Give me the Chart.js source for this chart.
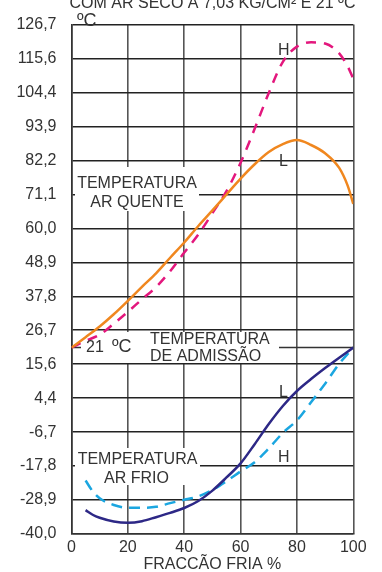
<!DOCTYPE html>
<html>
<head>
<meta charset="utf-8">
<script src="https://cdn.jsdelivr.net/npm/chart.js@4.4.1/dist/chart.umd.min.js"></script>
<style>
  html, body { margin: 0; padding: 0; background: #fff; }
  canvas { display: block; }
</style>
</head>
<body>
<canvas id="chart" width="382" height="572"></canvas>
<script>
// Temperatura de saída vs fracção fria (ar seco a 7,03 kg/cm2, 21 ºC)
const hotX = [0, 5, 10, 15, 20, 25, 30, 35, 40, 45, 50, 55, 60, 65, 70, 75, 80, 85, 90, 95, 98, 100];
const hotH = [21.0, 23.2, 25.2, 28.8, 32.7, 36.8, 40.8, 46.0, 52.1, 58.0, 65.0, 72.2, 81.5, 92.6, 104.3, 114.5, 119.5, 120.9, 120.5, 117.3, 113.0, 109.0];
const hotL = [21.0, 24.4, 27.9, 31.9, 36.3, 40.9, 45.3, 50.4, 55.4, 60.8, 65.9, 71.1, 76.3, 81.0, 85.0, 87.6, 88.9, 87.3, 84.6, 79.8, 74.0, 68.0];

const coldX = [5, 7.5, 10, 15, 20, 25, 30, 35, 40, 45, 50, 55, 60, 65, 70, 75, 80, 85, 90, 95, 100];
const coldH = [-22.5, -26.0, -28.3, -30.5, -31.4, -31.4, -31.1, -29.9, -28.8, -27.7, -25.6, -22.7, -19.5, -16.5, -12.0, -6.9, -2.8, 3.1, 9.2, 15.7, 21.0];
const coldL = [-32.2, -33.7, -34.7, -35.9, -36.3, -35.8, -34.5, -33.1, -31.5, -29.2, -25.8, -21.5, -16.9, -10.6, -4.0, 1.9, 6.8, 10.7, 14.3, 17.7, 21.0];

// tick labels, top to bottom (evenly spaced)
const yTickLabels = ['126,7', '115,6', '104,4', '93,9', '82,2', '71,1', '60,0', '48,9', '37,8', '26,7', '15,6', '4,4', '-6,7', '-17,8', '-28,9', '-40,0'];
const xTickValues = [0, 20, 40, 60, 80, 100];
const admissionTemp = 21;

const Y_MIN = -40, Y_MAX = 126.7;
const Y_STEP = (Y_MAX - Y_MIN) / (yTickLabels.length - 1);
const FONT = "'Liberation Sans', Arial, sans-serif";
const TEXT = '#333';

const toPoints = (xs, ys) => xs.map((x, i) => ({ x: x, y: ys[i] }));

// white boxes behind the labels, grid is hidden under them
const labelBoxes = [
    [75, 167, 124, 44],
    [81, 332, 198, 31],
    [75, 448, 125, 37]
];

const annotations = {
    id: 'annotations',
    beforeDatasetsDraw(chart) {
        const { ctx, chartArea, scales } = chart;
        ctx.save();
        const y21 = scales.y.getPixelForValue(admissionTemp);
        ctx.strokeStyle = '#333';
        ctx.lineWidth = 1.5;
        ctx.beginPath();
        ctx.moveTo(chartArea.left, y21);
        ctx.lineTo(chartArea.right, y21);
        ctx.stroke();

        ctx.fillStyle = '#fff';
        labelBoxes.forEach(b => ctx.fillRect(b[0], b[1], b[2], b[3]));
        ctx.restore();
    },
    afterDatasetsDraw(chart) {
        const { ctx } = chart;
        ctx.save();
        ctx.fillStyle = TEXT;
        ctx.textBaseline = 'alphabetic';
        ctx.font = '16px ' + FONT;

        ctx.textAlign = 'center';
        ctx.fillText('TEMPERATURA', 137, 188);
        ctx.fillText('AR QUENTE', 137, 207);
        ctx.fillText('TEMPERATURA', 137.5, 464);
        ctx.fillText('AR FRIO', 136.5, 483);

        ctx.textAlign = 'left';
        ctx.fillText('TEMPERATURA', 150, 344);
        ctx.fillText('DE ADMISSÃO', 150, 361);
        ctx.fillText('21', 86, 352);
        ctx.font = '18px ' + FONT;
        ctx.fillText('ºC', 112, 352);

        ctx.font = '16px ' + FONT;
        ctx.fillText('H', 278, 55);
        ctx.fillText('L', 279, 166);
        ctx.fillText('L', 279, 397);
        ctx.fillText('H', 278, 462);

        ctx.font = '18px ' + FONT;
        ctx.fillText('ºC', 77, 26);

        ctx.font = '16px ' + FONT;
        ctx.textAlign = 'center';
        ctx.fillText('COM AR SECO A 7,03 KG/CM² E 21 ºC', 212.5, 8);
        ctx.restore();
    }
};

new Chart(document.getElementById('chart'), {
    type: 'line',
    data: {
        datasets: [
            {
                label: 'L quente',
                data: toPoints(hotX, hotL),
                borderColor: '#f0871f',
                borderWidth: 2.5
            },
            {
                label: 'H quente',
                data: toPoints(hotX, hotH),
                borderColor: '#e3177d',
                borderWidth: 2.5,
                borderDash: [10, 8]
            },
            {
                label: 'L frio',
                data: toPoints(coldX, coldL),
                borderColor: '#2d2886',
                borderWidth: 2.5
            },
            {
                label: 'H frio',
                data: toPoints(coldX, coldH),
                borderColor: '#1ba6e0',
                borderWidth: 2.5,
                borderDash: [11, 7]
            }
        ]
    },
    options: {
        responsive: false,
        animation: false,
        devicePixelRatio: 1,
        layout: { padding: { top: 21.7, right: 28.7, bottom: 0, left: 0 } },
        elements: {
            point: { radius: 0 },
            line: { cubicInterpolationMode: 'monotone', fill: false }
        },
        plugins: {
            legend: { display: false },
            tooltip: { enabled: false }
        },
        scales: {
            x: {
                type: 'linear',
                min: 0,
                max: 100,
                afterBuildTicks: (scale) => {
                    scale.ticks = xTickValues.map(v => ({ value: v }));
                },
                afterFit: (scale) => { scale.height = 38; },
                ticks: {
                    font: { family: FONT, size: 16 },
                    color: TEXT,
                    padding: 4,
                    maxRotation: 0,
                    autoSkip: false
                },
                grid: { color: '#555', lineWidth: 1.6, drawTicks: false },
                border: { color: '#333', width: 1.6 },
                title: {
                    display: true,
                    text: 'FRACCÃO FRIA %',
                    font: { family: FONT, size: 16, lineHeight: 0.9 },
                    color: TEXT,
                    padding: 0
                }
            },
            y: {
                type: 'linear',
                min: Y_MIN,
                max: Y_MAX,
                afterBuildTicks: (scale) => {
                    scale.ticks = yTickLabels.map((_, i) => ({ value: Y_MIN + i * Y_STEP }));
                },
                afterFit: (scale) => { scale.width = 71.5; },
                ticks: {
                    font: { family: FONT, size: 16 },
                    color: TEXT,
                    padding: 15,
                    autoSkip: false,
                    callback: (v, i) => yTickLabels[yTickLabels.length - 1 - i]
                },
                grid: { color: '#222', lineWidth: 1.5, drawTicks: false },
                border: { color: '#333', width: 1.6 }
            }
        }
    },
    plugins: [annotations]
});
</script>
</body>
</html>
